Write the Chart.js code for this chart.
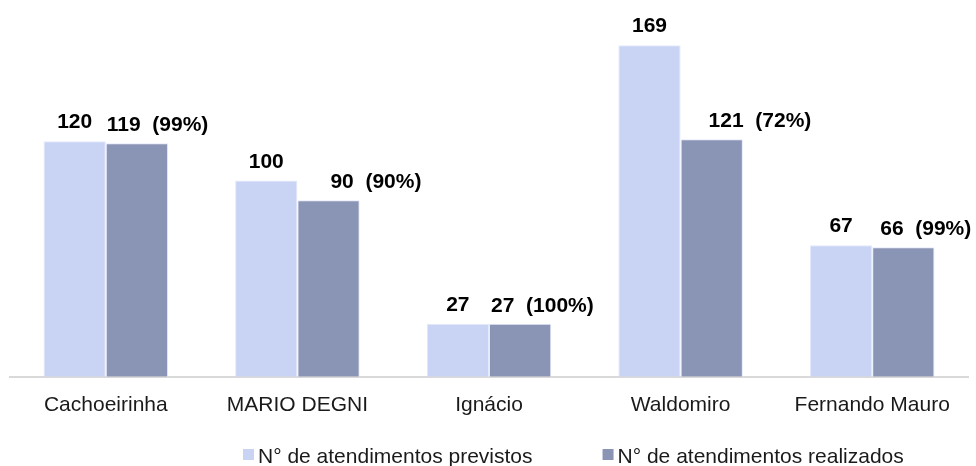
<!DOCTYPE html>
<html>
<head>
<meta charset="utf-8">
<script src="https://cdn.jsdelivr.net/npm/chart.js@4/dist/chart.umd.min.js"></script>
<style>
  html, body { margin: 0; padding: 0; background: #fff; }
  #wrap { width: 976px; height: 466px; position: relative; }
</style>
</head>
<body>
<div id="wrap"><canvas id="grafico"></canvas></div>
<script>
// Dados do gráfico
const unidades = ["Cachoeirinha", "MARIO DEGNI", "Ignácio", "Waldomiro", "Fernando Mauro"];
const previstos = [120, 100, 27, 169, 67];
const realizados = [119, 90, 27, 121, 66];
const nomesSeries = ["N° de atendimentos previstos", "N° de atendimentos realizados"];

// deslocamento horizontal dos rótulos "realizados" (como no original)
const deslocRotulo = [1, 33, 2, 28, 8];

const corPrevisto = "#c9d4f5";
const corRealizado = "#8a94b4";
const fonte = "'Liberation Sans', Arial, sans-serif";

// Rótulos de valor acima das barras
const rotulosPlugin = {
    id: "rotulos",
    afterDatasetsDraw(chart) {
        const ctx = chart.ctx;
        ctx.save();
        ctx.fillStyle = "#000";
        ctx.font = "bold 21px " + fonte;
        ctx.textBaseline = "alphabetic";
        chart.getDatasetMeta(0).data.forEach((bar, i) => {
            ctx.textAlign = "center";
            ctx.fillText(String(previstos[i]), bar.x, bar.y - 13);
        });
        chart.getDatasetMeta(1).data.forEach((bar, i) => {
            const pct = Math.round(realizados[i] / previstos[i] * 100);
            const esquerda = bar.x - bar.width / 2;
            ctx.textAlign = "left";
            ctx.fillText(realizados[i] + "  (" + pct + "%)", esquerda + deslocRotulo[i], bar.y - 12);
        });
        ctx.restore();
    }
};

// Legenda desenhada à mão para reproduzir o espaçamento
const legendaPlugin = {
    id: "legendaManual",
    afterDraw(chart) {
        const ctx = chart.ctx;
        ctx.save();
        ctx.font = "21px " + fonte;
        ctx.textBaseline = "alphabetic";
        ctx.textAlign = "left";
        const cores = [corPrevisto, corRealizado];
        const base = chart.height - 3;
        let x = 243;
        nomesSeries.forEach((nome, i) => {
            ctx.fillStyle = cores[i];
            ctx.fillRect(x, base - 14, 11, 11);
            ctx.fillStyle = "#1a1a1a";
            ctx.fillText(nome, x + 15, base);
            x += 15 + ctx.measureText(nome).width + 70;
        });
        ctx.restore();
    }
};

new Chart(document.getElementById("grafico"), {
    type: "bar",
    data: {
        labels: unidades,
        datasets: [
            {
                label: nomesSeries[0],
                data: previstos,
                backgroundColor: corPrevisto,
                borderColor: "#e4e9fb",
                borderWidth: 1
            },
            {
                label: nomesSeries[1],
                data: realizados,
                backgroundColor: corRealizado,
                borderColor: "#e4e9fb",
                borderWidth: 1
            }
        ]
    },
    options: {
        responsive: true,
        maintainAspectRatio: false,
        animation: false,
        datasets: {
            bar: { categoryPercentage: 0.65, barPercentage: 1 }
        },
        layout: {
            padding: { left: 10, right: 8, top: 0, bottom: 32 }
        },
        plugins: {
            legend: { display: false },
            tooltip: { enabled: false }
        },
        scales: {
            x: {
                grid: { display: false, drawTicks: false },
                border: { display: true, color: "#d9d9d9", width: 2 },
                ticks: {
                    color: "#1a1a1a",
                    padding: 16,
                    font: { family: fonte, size: 21 }
                }
            },
            y: {
                display: false,
                min: 0,
                max: 192
            }
        }
    },
    plugins: [rotulosPlugin, legendaPlugin]
});
</script>
</body>
</html>
